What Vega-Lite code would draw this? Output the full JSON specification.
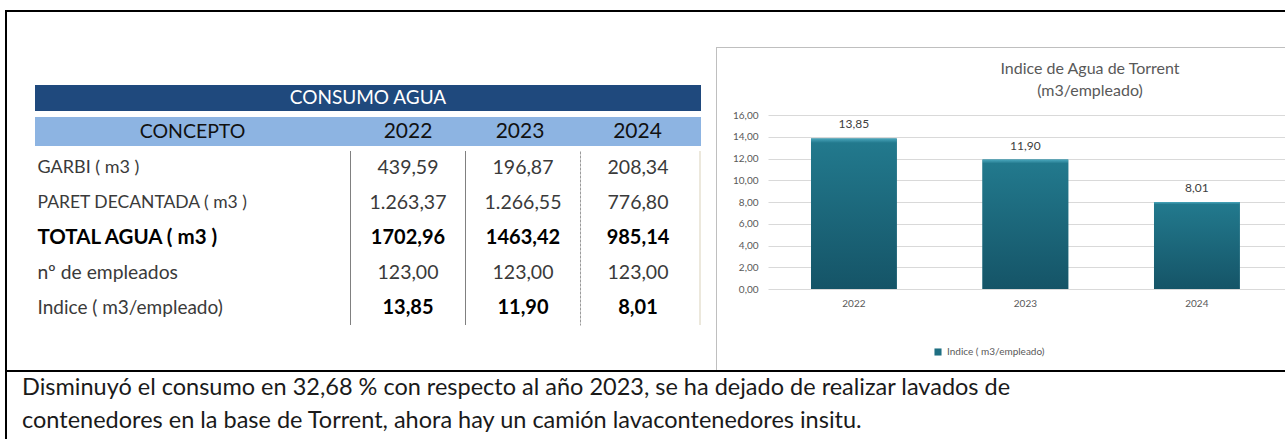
{
  "$schema": "https://vega.github.io/schema/vega-lite/v6.json",
  "background": "white",
  "padding": {"left": 5, "top": 10, "right": 0, "bottom": 0},
  "spacing": 0,
  "config": {
    "view": {"stroke": null},
    "font": "Lato",
    "concat": {"spacing": 0},
    "locale": {"number": {"decimal": ",", "thousands": ".", "grouping": [3], "currency": ["", " €"]}}
  },
  "datasets": {
    "tabla": [
      {"concepto": "GARBI ( m3 )", "anio": 2022, "valor": 439.59},
      {"concepto": "GARBI ( m3 )", "anio": 2023, "valor": 196.87},
      {"concepto": "GARBI ( m3 )", "anio": 2024, "valor": 208.34},
      {"concepto": "PARET DECANTADA ( m3 )", "anio": 2022, "valor": 1263.37},
      {"concepto": "PARET DECANTADA ( m3 )", "anio": 2023, "valor": 1266.55},
      {"concepto": "PARET DECANTADA ( m3 )", "anio": 2024, "valor": 776.80},
      {"concepto": "TOTAL AGUA ( m3 )", "anio": 2022, "valor": 1702.96},
      {"concepto": "TOTAL AGUA ( m3 )", "anio": 2023, "valor": 1463.42},
      {"concepto": "TOTAL AGUA ( m3 )", "anio": 2024, "valor": 985.14},
      {"concepto": "nº de empleados", "anio": 2022, "valor": 123.00},
      {"concepto": "nº de empleados", "anio": 2023, "valor": 123.00},
      {"concepto": "nº de empleados", "anio": 2024, "valor": 123.00},
      {"concepto": "Indice ( m3/empleado)", "anio": 2022, "valor": 13.85},
      {"concepto": "Indice ( m3/empleado)", "anio": 2023, "valor": 11.90},
      {"concepto": "Indice ( m3/empleado)", "anio": 2024, "valor": 8.01}
    ]
  },
  "hconcat": [
    {
      "width": 2, "height": 429,
      "view": {"fill": "#000000"},
      "data": {"values": [{}]},
      "mark": {"type": "text", "fontSize": 0},
      "encoding": {"text": {"value": ""}}
    },
    {
      "spacing": 0,
      "vconcat": [
        {
          "width": 1278, "height": 2,
          "view": {"fill": "#000000"},
          "data": {"values": [{}]},
          "mark": {"type": "text", "fontSize": 0},
          "encoding": {"text": {"value": ""}}
        },
        {
          "spacing": 0,
          "hconcat": [
            {
              "width": 28, "height": 358,
              "data": {"values": [{}]},
              "mark": {"type": "text", "fontSize": 0},
              "encoding": {"text": {"value": ""}}
            },
            {
              "spacing": 0,
              "vconcat": [
                {
                  "width": 666, "height": 73,
                  "data": {"values": [{}]},
                  "mark": {"type": "text", "fontSize": 0},
                  "encoding": {"text": {"value": ""}}
                },
                {
                  "width": 666, "height": 26,
                  "view": {"fill": "#1F497D"},
                  "data": {"values": [{"titulo": "CONSUMO AGUA"}]},
                  "mark": {"type": "text", "fontSize": 19, "color": "#ffffff"},
                  "encoding": {"text": {"field": "titulo"}}
                },
                {
                  "width": 666, "height": 6,
                  "data": {"values": [{}]},
                  "mark": {"type": "text", "fontSize": 0},
                  "encoding": {"text": {"value": ""}}
                },
                {
                  "spacing": 0,
                  "hconcat": [
                    {
                      "width": 315, "height": 29,
                      "view": {"fill": "#8DB4E2"},
                      "data": {"values": [{"col": "CONCEPTO"}]},
                      "mark": {"type": "text", "fontSize": 19.5, "color": "#111111"},
                      "encoding": {"text": {"field": "col"}}
                    },
                    {
                      "width": 116, "height": 29,
                      "view": {"fill": "#8DB4E2"},
                      "data": {"values": [{"col": "2022"}]},
                      "mark": {"type": "text", "fontSize": 21, "color": "#111111"},
                      "encoding": {"text": {"field": "col"}}
                    },
                    {
                      "width": 108, "height": 29,
                      "view": {"fill": "#8DB4E2"},
                      "data": {"values": [{"col": "2023"}]},
                      "mark": {"type": "text", "fontSize": 21, "color": "#111111"},
                      "encoding": {"text": {"field": "col"}}
                    },
                    {
                      "width": 127, "height": 29,
                      "view": {"fill": "#8DB4E2"},
                      "data": {"values": [{"col": "2024"}]},
                      "mark": {"type": "text", "fontSize": 21, "color": "#111111"},
                      "encoding": {"text": {"field": "col"}}
                    }
                  ]
                },
                {
                  "width": 666, "height": 5,
                  "data": {"values": [{}]},
                  "mark": {"type": "text", "fontSize": 0},
                  "encoding": {"text": {"value": ""}}
                },
                {
                  "spacing": 0,
                  "hconcat": [
                    {
                      "width": 315, "height": 174,
                      "data": {"name": "tabla"},
                      "mark": {"type": "text", "fontSize": 0},
                      "encoding": {
                        "text": {"value": ""},
                        "y": {
                          "field": "concepto", "type": "nominal",
                          "scale": {"type": "band", "domain": ["GARBI ( m3 )", "PARET DECANTADA ( m3 )", "TOTAL AGUA ( m3 )", "nº de empleados", "Indice ( m3/empleado)"], "paddingInner": 0, "paddingOuter": 0},
                          "axis": {
                            "orient": "left", "title": null, "domain": false, "ticks": false, "tickSize": 0,
                            "labelAlign": "left", "labelPadding": -2, "labelLimit": 500,
                            "labelExpr": "datum.value === 'Indice ( m3/empleado)' ? ' ' + datum.value : datum.value",
                            "labelFontSize": {"condition": [
                              {"test": "datum.value === 'TOTAL AGUA ( m3 )'", "value": 20.5},
                              {"test": "datum.value === 'nº de empleados'", "value": 19.3},
                              {"test": "datum.value === 'Indice ( m3/empleado)'", "value": 19},
                              {"test": "datum.value === 'PARET DECANTADA ( m3 )'", "value": 17.5}
                            ], "value": 18},
                            "labelColor": {"condition": {"test": "datum.value === 'TOTAL AGUA ( m3 )'", "value": "#000000"}, "value": "#3a3a3a"},
                            "labelFontWeight": {"condition": {"test": "datum.value === 'TOTAL AGUA ( m3 )'", "value": "bold"}, "value": "normal"}
                          }
                        }
                      }
                    },
                    {
                      "width": 349, "height": 174,
                      "data": {"name": "tabla"},
                      "encoding": {
                        "x": {
                          "field": "anio", "type": "ordinal",
                          "scale": {"type": "band", "paddingInner": 0, "paddingOuter": 0.0174, "align": 0.125},
                          "axis": {
                            "orient": "top", "title": null, "labels": false, "ticks": false, "domain": false,
                            "grid": true, "bandPosition": 0, "gridWidth": 1,
                            "gridColor": {"condition": {"test": "datum.value === 2024", "value": "#9a9a9a"}, "value": "#000000"},
                            "gridDash": {"condition": {"test": "datum.value === 2024", "value": [3, 1]}, "value": [1, 1]}
                          }
                        },
                        "y": {
                          "field": "concepto", "type": "nominal",
                          "scale": {"type": "band", "domain": ["GARBI ( m3 )", "PARET DECANTADA ( m3 )", "TOTAL AGUA ( m3 )", "nº de empleados", "Indice ( m3/empleado)"], "paddingInner": 0, "paddingOuter": 0},
                          "axis": null
                        }
                      },
                      "layer": [
                        {
                          "transform": [{"filter": {"field": "concepto", "oneOf": ["GARBI ( m3 )", "PARET DECANTADA ( m3 )", "nº de empleados"]}}],
                          "mark": {"type": "text", "fontSize": 19.5, "color": "#3a3a3a"},
                          "encoding": {"text": {"field": "valor", "type": "quantitative", "format": ",.2f"}}
                        },
                        {
                          "transform": [{"filter": {"field": "concepto", "oneOf": ["TOTAL AGUA ( m3 )", "Indice ( m3/empleado)"]}}],
                          "mark": {"type": "text", "fontSize": 20, "fontWeight": "bold", "color": "#000000"},
                          "encoding": {"text": {"field": "valor", "type": "quantitative", "format": ".2f"}}
                        }
                      ]
                    },
                    {
                      "width": 2, "height": 174,
                      "view": {"fill": "#ECE8DC"},
                      "data": {"values": [{}]},
                      "mark": {"type": "text", "fontSize": 0},
                      "encoding": {"text": {"value": ""}}
                    }
                  ]
                },
                {
                  "width": 666, "height": 45,
                  "data": {"values": [{}]},
                  "mark": {"type": "text", "fontSize": 0},
                  "encoding": {"text": {"value": ""}}
                }
              ]
            },
            {
              "width": 15, "height": 358,
              "data": {"values": [{}]},
              "mark": {"type": "text", "fontSize": 0},
              "encoding": {"text": {"value": ""}}
            },
            {
              "spacing": 0,
              "vconcat": [
                {
                  "width": 569, "height": 35,
                  "data": {"values": [{}]},
                  "mark": {"type": "text", "fontSize": 0},
                  "encoding": {"text": {"value": ""}}
                },
                {
                  "spacing": 0,
                  "hconcat": [
                    {
                      "width": 1, "height": 323,
                      "view": {"fill": "#BFBFBF"},
                      "data": {"values": [{}]},
                      "mark": {"type": "text", "fontSize": 0},
                      "encoding": {"text": {"value": ""}}
                    },
                    {
                      "spacing": 0,
                      "vconcat": [
                        {
                          "width": 568, "height": 1,
                          "view": {"fill": "#BFBFBF"},
                          "data": {"values": [{}]},
                          "mark": {"type": "text", "fontSize": 0},
                          "encoding": {"text": {"value": ""}}
                        },
                        {
                          "width": 568, "height": 322,
                          "data": {"name": "tabla"},
                          "transform": [{"filter": {"field": "concepto", "equal": "Indice ( m3/empleado)"}}],
                          "title": {
                            "text": ["Indice de Agua de Torrent", "(m3/empleado)"],
                            "frame": "group", "anchor": "middle", "orient": "top", "baseline": "top",
                            "offset": -51, "dx": 89, "fontSize": 16, "lineHeight": 22,
                            "fontWeight": "normal", "color": "#595959"
                          },
                          "encoding": {
                            "x": {
                              "field": "anio", "type": "ordinal",
                              "scale": {"type": "band", "paddingInner": 0.5, "paddingOuter": 0.406, "align": 0.675},
                              "axis": {"title": null, "orient": "bottom", "offset": -81, "labelAngle": 0, "domain": false, "ticks": false, "labelPadding": 9, "labelFontSize": 10, "labelColor": "#595959", "grid": false}
                            },
                            "y": {
                              "field": "valor", "type": "quantitative",
                              "scale": {"domain": [-7.448, 22.161], "nice": false, "zero": false},
                              "axis": {"title": null, "orient": "left", "offset": -51, "values": [0, 2, 4, 6, 8, 10, 12, 14, 16], "format": ".2f", "domain": false, "ticks": false, "labelPadding": 10, "labelFontSize": 10, "labelColor": "#595959", "grid": true, "gridColor": "#D9D9D9", "gridWidth": 1, "gridDash": [0, 51, 3000]}
                            }
                          },
                          "layer": [
                            {
                              "mark": {"type": "bar"},
                              "encoding": {
                                "y2": {"datum": 0},
                                "color": {
                                  "field": "concepto", "type": "nominal",
                                  "scale": {"range": ["#1F6F82"]},
                                  "legend": {"orient": "none", "legendX": 928, "legendY": 337, "title": null, "symbolType": "square", "symbolSize": 50, "labelFontSize": 10, "labelColor": "#595959", "direction": "horizontal"}
                                }
                              }
                            },
                            {
                              "mark": {
                                "type": "bar",
                                "color": {
                                  "gradient": "linear", "x1": 0, "y1": 0, "x2": 0, "y2": 1,
                                  "stops": [
                                    {"offset": 0, "color": "#4AA7BD"},
                                    {"offset": 0.03, "color": "#22798D"},
                                    {"offset": 1, "color": "#155467"}
                                  ]
                                }
                              },
                              "encoding": {"y2": {"datum": 0}}
                            },
                            {
                              "mark": {"type": "text", "baseline": "bottom", "dy": -7, "fontSize": 12, "color": "#404040"},
                              "encoding": {"text": {"field": "valor", "type": "quantitative", "format": ".2f"}}
                            }
                          ]
                        }
                      ]
                    }
                  ]
                }
              ]
            }
          ]
        },
        {
          "width": 1278, "height": 2,
          "view": {"fill": "#000000"},
          "data": {"values": [{}]},
          "mark": {"type": "text", "fontSize": 0},
          "encoding": {"text": {"value": ""}}
        },
        {
          "width": 1278, "height": 67,
          "data": {"values": [{}]},
          "mark": {"type": "text", "fontSize": 0},
          "encoding": {"text": {"value": ""}},
          "title": {
            "text": ["Disminuyó el consumo en 32,68 % con respecto al año 2023, se ha dejado de realizar lavados de", "contenedores en la base de Torrent, ahora hay un camión lavacontenedores insitu."],
            "frame": "group", "anchor": "start", "orient": "top", "baseline": "top",
            "offset": -60, "dx": 15, "fontSize": 23.5, "lineHeight": 33, "fontWeight": "normal", "color": "#1a1a1a"
          }
        }
      ]
    }
  ]
}
